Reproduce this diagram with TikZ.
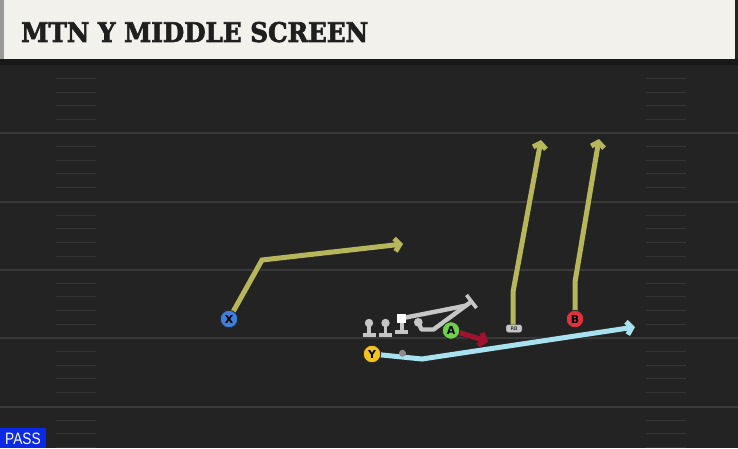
\documentclass[tikz,border=0pt]{standalone}
\usepackage{fontspec}
\setmainfont{DejaVu Serif}
\newfontfamily\titlefont[BoldFeatures={FakeBold=2.5}]{DejaVu Serif}
\newfontfamily\passfont{Liberation Sans}
\newfontfamily\plfont{DejaVu Sans}
\usetikzlibrary{arrows.meta,calc}
\definecolor{fieldbg}{HTML}{232323}
\definecolor{yardc}{HTML}{3A3A3A}
\definecolor{hashc}{HTML}{363636}
\definecolor{hdrbg}{HTML}{F3F1EB}
\definecolor{routey}{HTML}{B8B65A}
\definecolor{routeb}{HTML}{A8E2F0}
\definecolor{router}{HTML}{A0122E}
\definecolor{olgray}{HTML}{C6C6C6}
\definecolor{pblue}{HTML}{3D7FDB}
\definecolor{pyellow}{HTML}{F2C21E}
\definecolor{pgreen}{HTML}{6ED04A}
\definecolor{pred}{HTML}{E2323E}
\definecolor{passblue}{HTML}{0A2AE6}
\tikzset{
  yard/.style={draw=yardc, line width=2pt},
  hashm/.style={draw=hashc, line width=1pt},
  route/.style={line width=5pt, line join=miter, -{Straight Barb[length=5pt,width=13pt]},
    preaction={draw=black!85, line width=6.4pt}},
  player/.style={circle, draw=black!85, line width=0.8pt, minimum size=17.5pt, inner sep=0pt,
    font=\plfont\bfseries\fontsize{11}{11}\selectfont},
  olgr/.style={draw=olgray, line width=4.4pt},
}
\begin{document}
\begin{tikzpicture}[x=1pt,y=-1pt]
\useasboundingbox (0,0) rectangle (738,448);
% field
\fill[fieldbg] (0,0) rectangle (738,448);
% yard lines
\foreach \yy in {133,201.5,269.5,338,406.5} {\draw[yard] (0,\yy) -- (738,\yy);}
% hash marks
\foreach \yy in {65,133,201.5,269.5,338,406.5} {
  \foreach \k in {1,2,3,4} {
    \draw[hashm] (56,\yy+13.66*\k) -- (96,\yy+13.66*\k);
    \draw[hashm] (646,\yy+13.66*\k) -- (686,\yy+13.66*\k);
  }
}
% header
\fill[black!90] (0,58) rectangle (738,65);
\fill[hdrbg] (0,0) rectangle (735,59);
\fill[black!40] (0,0) rectangle (4,59);
\node[anchor=south west, inner sep=0pt, text=black!88] (title) at (21,42.5)
  {\resizebox{347pt}{20pt}{\titlefont\bfseries MTN Y MIDDLE SCREEN}};
% PASS
\fill[passblue] (0,428) rectangle (45.5,448);
\node[anchor=south west, inner sep=0pt, text=white] (pass) at (5,445)
  {\resizebox{35.5pt}{11.5pt}{\passfont PASS}};

% coordinates
\coordinate (xb) at (262,260);
\coordinate (xe) at (403,244);
\coordinate (rbb) at (513,292);
\coordinate (rbe) at (541,140);
\coordinate (bb) at (575,282);
\coordinate (be) at (599,139);
\coordinate (yb) at (422,359);
\coordinate (ye) at (635,327);
\coordinate (ae) at (488,341.5);

% O-line
\foreach \xx in {369,385.5} {
  \draw[olgr, line width=3.6pt] (\xx,323) -- (\xx,334);
  \draw[olgr, line width=3.6pt] (\xx-6.5,335) -- (\xx+6.5,335);
  \fill[olgray] (\xx,323) circle (4.2pt);
}
\draw[olgr, line width=3.6pt] (401.7,320) -- (401.7,331);
\draw[olgr, line width=3.6pt] (395.2,332) -- (408.2,332);
\coordinate (lb) at (459,307);
\coordinate (l4a) at (421.5,329.5);
\coordinate (l4b) at (433.5,329.5);
\coordinate (l4e) at (471.5,301.5);
\draw[olgr, line join=round] (401.7,318.3) -- (lb) -- (466,305.5);
\draw[olgr, line join=round] (418.3,322.3) -- (l4a) -- (l4b) -- (l4e);
\draw[olgr, line width=3.6pt] ($(l4e)+(-5,-6.5)$) -- ($(l4e)+(5,6.5)$);
\node[fill=white, minimum size=9pt, inner sep=0pt] (c) at (401.7,318.3) {};
\fill[olgray] (418.3,322.3) circle (4.4pt);

% routes
\draw[route, routey] (229,319) -- (xb) -- (xe);
\draw[route, routey] (513,326) -- (rbb) -- (rbe);
\draw[route, routey] (575,319) -- (bb) -- (be);
\draw[route, routeb] (372,354) -- (yb) -- (ye);
\draw[route, router] (451,330) -- (ae);

% players
\node[player, fill=pblue] (X) at (229,319) {X};
\node[player, fill=pyellow] (Y) at (372,354) {Y};
\node[player, fill=pgreen] (A) at (451,330.5) {A};
\node[player, fill=pred] (B) at (575,319) {B};
\node[draw=black!85, fill=olgray, rounded corners=2pt, minimum width=16pt, minimum height=8pt,
  inner sep=0pt, font=\plfont\fontsize{5}{5}\selectfont] (RB) at (514,328.5) {RB};
\node[circle, fill=black!45, minimum size=7pt, inner sep=0pt] (qb) at (402.5,353.3) {};
\end{tikzpicture}
\end{document}
